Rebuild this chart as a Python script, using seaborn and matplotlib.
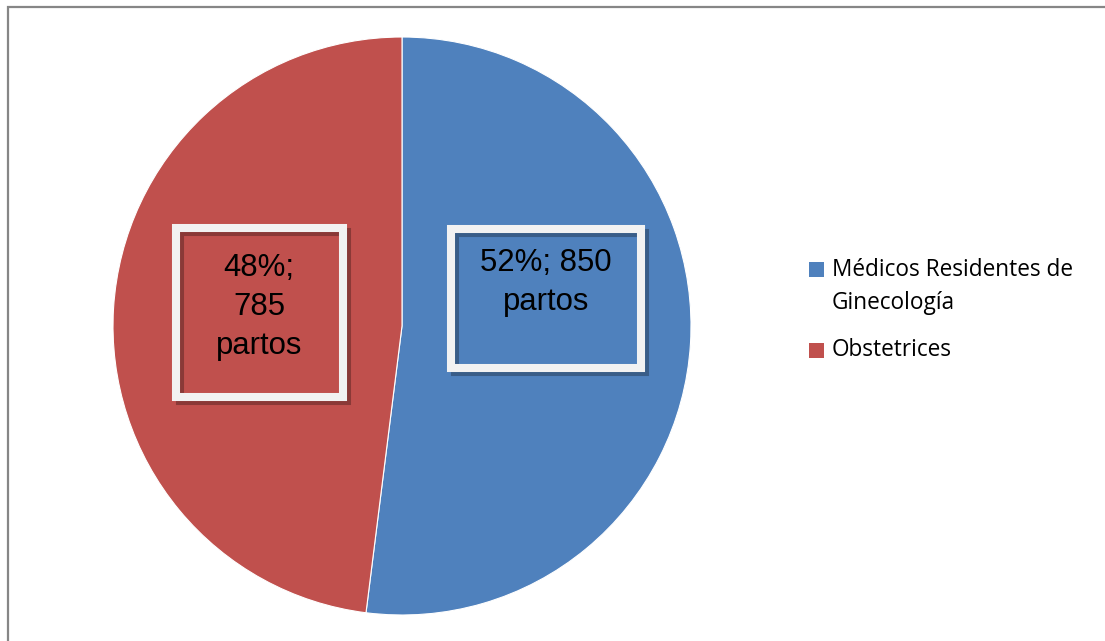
import matplotlib
matplotlib.use("Agg")
import matplotlib.pyplot as plt
from matplotlib.patches import Rectangle
import seaborn as sns

# Deliveries attended, by professional group
categories = ["Médicos Residentes de\nGinecología", "Obstetrices"]
partos = [850, 785]
colors = ["#4F81BD", "#C0504D"]

sns.set_theme(style="white")
plt.rcParams["font.family"] = ["Liberation Sans", "DejaVu Sans"]

W, H = 1105, 641
fig = plt.figure(figsize=(W / 100, H / 100), dpi=100)


def fx(x):
    return x / W


def fy(y):
    return 1 - y / H


# outer chart border (gray frame, runs off the right and bottom edges)
fig.patches.append(Rectangle((fx(7.5), fy(H + 20)), fx(W + 20), (H + 13.5) / H,
                             transform=fig.transFigure, fill=False,
                             edgecolor="#868686", linewidth=1.6, zorder=0))

# pie axes: centre (402, 326), radius 289 px
cx, cy, r = 402, 326, 289
ax = fig.add_axes([fx(cx - r), fy(cy + r), 2 * r / W, 2 * r / H])
palette = sns.color_palette(colors)
wedges, _ = ax.pie(partos, colors=palette, startangle=90, counterclock=False,
                   wedgeprops=dict(linewidth=0.8, edgecolor="white"))
ax.set_xlim(-1, 1)
ax.set_ylim(-1, 1)
ax.set_aspect("equal")
ax.axis("off")

total = sum(partos)
pcts = [round(100 * v / total) for v in partos]
label_texts = [f"{pcts[0]}%; {partos[0]}\npartos",
               f"{pcts[1]}%;\n{partos[1]}\npartos"]

# framed data labels: frame (left, top, right, bottom) at stroke centre,
# text centre x and last-line baseline y
boxes = [
    ((451, 229, 641, 368), (546, 310)),
    ((176, 228, 343, 397), (259, 354)),
]

for i, ((l, t, rgt, b), (tx, ty)) in enumerate(boxes):
    sh = 4
    fig.patches.append(Rectangle((fx(l + sh), fy(b + sh)), (rgt - l) / W, (b - t) / H,
                                 transform=fig.transFigure, fill=False,
                                 edgecolor=(0, 0, 0, 0.28), linewidth=5.8, zorder=3))
    fig.patches.append(Rectangle((fx(l), fy(b)), (rgt - l) / W, (b - t) / H,
                                 transform=fig.transFigure, fill=False,
                                 edgecolor="#F2F2F2", linewidth=5.8, zorder=4))
    fig.text(fx(tx), fy(ty), label_texts[i], ha="center", va="baseline",
             multialignment="center", fontsize=22.4, color="black",
             linespacing=1.40, zorder=5)

# legend: colour squares and category names (last-line baseline)
legend_rows = [(262, 309), (343, 356)]  # square top, text baseline
for name, col, (sq_top, base) in zip(categories, palette, legend_rows):
    fig.patches.append(Rectangle((fx(809), fy(sq_top + 14.5)), 14.5 / W, 14.5 / H,
                                 transform=fig.transFigure, facecolor=col,
                                 edgecolor="none", zorder=5))
    fig.text(fx(832), fy(base), name, ha="left", va="baseline",
             family=["Open Sans", "DejaVu Sans"], fontsize=16.3,
             linespacing=1.48, color="black")

fig.savefig("out.png", dpi=100, facecolor="white")
